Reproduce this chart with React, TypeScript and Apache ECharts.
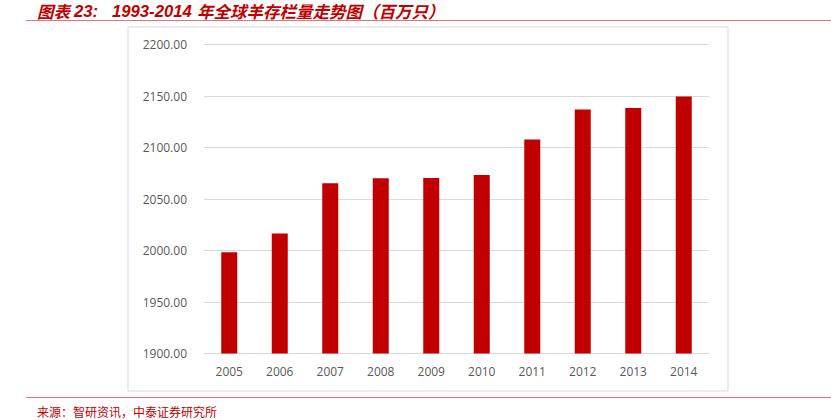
import React, { useEffect, useRef } from "react";
import * as echarts from "echarts";

const categories = ["2005", "2006", "2007", "2008", "2009", "2010", "2011", "2012", "2013", "2014"];
const sheepStock = [1998.4, 2016.6, 2065.3, 2070.1, 2070.4, 2073.3, 2107.8, 2137.0, 2138.3, 2149.4];
const titleLabel = "图表";
const titleNo = "23:";
const titleYears = "1993-2014";
const titleRest = "年全球羊存栏量走势图（百万只）";
const sourceText = "来源：智研资讯，中泰证券研究所";

export default function App() {
  const ref = useRef<HTMLDivElement>(null);
  useEffect(() => {
    if (!ref.current) return;
    const chart = echarts.init(ref.current, undefined, { renderer: "svg" });
    const cnFont = "italic bold 16.5px 'Noto Sans CJK SC', sans-serif";
    const numFont = "italic bold 16.7px 'Liberation Sans', Arial, sans-serif";
    const titleY = 11;
    chart.setOption({
      animation: false,
      backgroundColor: "#ffffff",
      grid: { left: 204, right: 122, top: 44.5, bottom: 66.5 },
      xAxis: {
        type: "category",
        data: categories,
        axisLine: { show: true, lineStyle: { color: "#d9d9d9" } },
        axisTick: { show: false },
        axisLabel: { color: "#595959", fontSize: 12, margin: 12, fontFamily: "Open Sans" },
      },
      yAxis: {
        type: "value",
        min: 1900,
        max: 2200,
        interval: 50,
        axisLine: { show: false },
        axisTick: { show: false },
        splitLine: { lineStyle: { color: "#d9d9d9", width: 1 } },
        axisLabel: {
          color: "#595959",
          fontSize: 12,
          margin: 17,
          fontFamily: "Open Sans",
          formatter: (v: number) => v.toFixed(2),
        },
      },
      series: [
        {
          type: "bar",
          data: sheepStock,
          barWidth: 16,
          itemStyle: { color: "#c00000" },
        },
      ],
      graphic: [
        {
          type: "text",
          x: 37,
          y: titleY,
          style: { text: titleLabel, fill: "#c00000", font: cnFont, verticalAlign: "middle" },
        },
        {
          type: "text",
          x: 74,
          y: titleY,
          style: { text: titleNo, fill: "#c00000", font: numFont, verticalAlign: "middle" },
        },
        {
          type: "text",
          x: 112,
          y: titleY,
          style: { text: titleYears, fill: "#c00000", font: numFont, verticalAlign: "middle" },
        },
        {
          type: "text",
          x: 197,
          y: titleY,
          style: { text: titleRest, fill: "#c00000", font: cnFont, verticalAlign: "middle" },
        },
        {
          type: "line",
          shape: { x1: 26, y1: 20.5, x2: 831, y2: 20.5 },
          style: { stroke: "#e57373", lineWidth: 1 },
        },
        {
          type: "rect",
          shape: { x: 128, y: 27, width: 600, height: 364 },
          style: { fill: "none", stroke: "#d9d9d9", lineWidth: 1 },
        },
        {
          type: "line",
          shape: { x1: 26, y1: 397.5, x2: 831, y2: 397.5 },
          style: { stroke: "#e57373", lineWidth: 1 },
        },
        {
          type: "text",
          x: 37,
          y: 411,
          style: {
            text: sourceText,
            fill: "#c00000",
            verticalAlign: "middle",
            font: "12px 'Noto Sans CJK SC', sans-serif",
          },
        },
      ],
    });
    return () => chart.dispose();
  }, []);
  return (
    <div
      ref={ref}
      style={{ position: "fixed", left: 0, top: 0, width: 831, height: 420 }}
    />
  );
}
